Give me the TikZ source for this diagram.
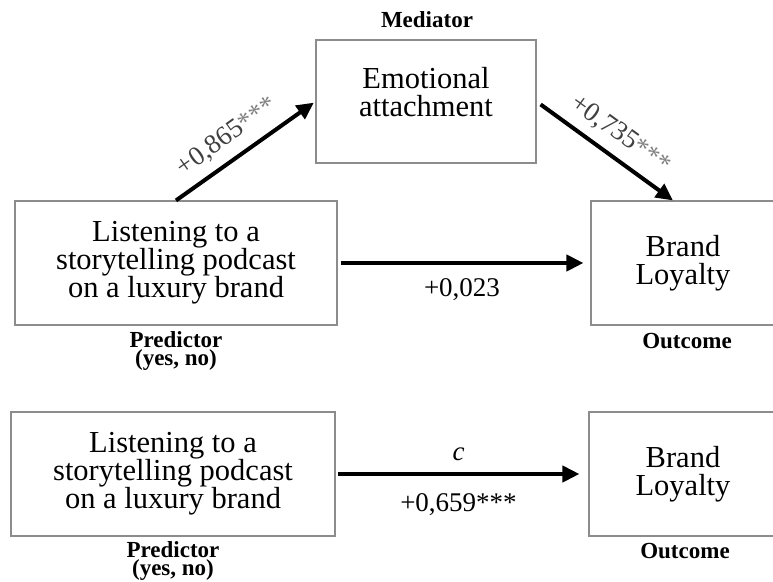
\documentclass[tikz,border=0pt]{standalone}
\usepackage{fontspec}
\setmainfont{Liberation Serif}
\usetikzlibrary{arrows.meta}

\tikzset{
    varbox/.style={draw=black!45, line width=1.1pt, align=center, inner sep=0pt,
        font=\fontsize{30.5}{28}\selectfont},
    rolelabel/.style={align=center, font=\bfseries\fontsize{23}{18.5}\selectfont},
    patharrow/.style={-{Triangle[length=17pt, width=16pt]}, line width=4pt},
    coef/.style={font=\fontsize{27}{27}\selectfont},
    slopedcoef/.style={coef, text=black!75, sloped, above=6pt}
}

\begin{document}
\begin{tikzpicture}[x=1pt, y=-1pt]

    \useasboundingbox (0, 0) rectangle (773, 581);

    % mediation model
    \node [varbox, minimum width=220pt, minimum height=123pt, text depth=20pt] (med) at (426, 101.5) {Emotional\\attachment};
    \node [varbox, minimum width=322pt, minimum height=124pt] (predA) at (176, 263) {Listening to a\\storytelling podcast\\on a luxury brand};
    \node [varbox, minimum width=184pt, minimum height=124pt] (loyA) at (683, 263) {Brand\\Loyalty};

    \node [rolelabel] (medlab) at (427, 20) {Mediator};
    \node [rolelabel] (predAlab) at (176, 351) {Predictor\\(yes, no)};
    \node [rolelabel] (loyAlab) at (687, 341) {Outcome};

    \draw [patharrow, shorten >=2pt] (predA.north) -- (med.west)
        node [pos=0.46, slopedcoef] {+0,865{\color{black!50}***}};
    \draw [patharrow, shorten <=5pt] (med.east) -- ([xshift=-10pt]loyA.north)
        node [pos=0.52, slopedcoef] {+0,735{\color{black!50}***}};
    \draw [patharrow] ([xshift=3pt]predA.east) -- ([xshift=-7pt]loyA.west)
        node [midway, below=10pt, coef] {+0,023};

    % total effect
    \node [varbox, minimum width=324pt, minimum height=124pt] (predB) at (173, 474) {Listening to a\\storytelling podcast\\on a luxury brand};
    \node [varbox, minimum width=188pt, minimum height=124pt] (loyB) at (683, 474) {Brand\\Loyalty};

    \node [rolelabel] (predBlab) at (173, 561) {Predictor\\(yes, no)};
    \node [rolelabel] (loyBlab) at (685, 551) {Outcome};

    \draw [patharrow] ([xshift=2pt]predB.east) -- ([xshift=-9pt]loyB.west)
        node [midway, above=8pt, coef] {\textit{c}}
        node [midway, below=14pt, coef] {+0,659***};

\end{tikzpicture}
\end{document}
